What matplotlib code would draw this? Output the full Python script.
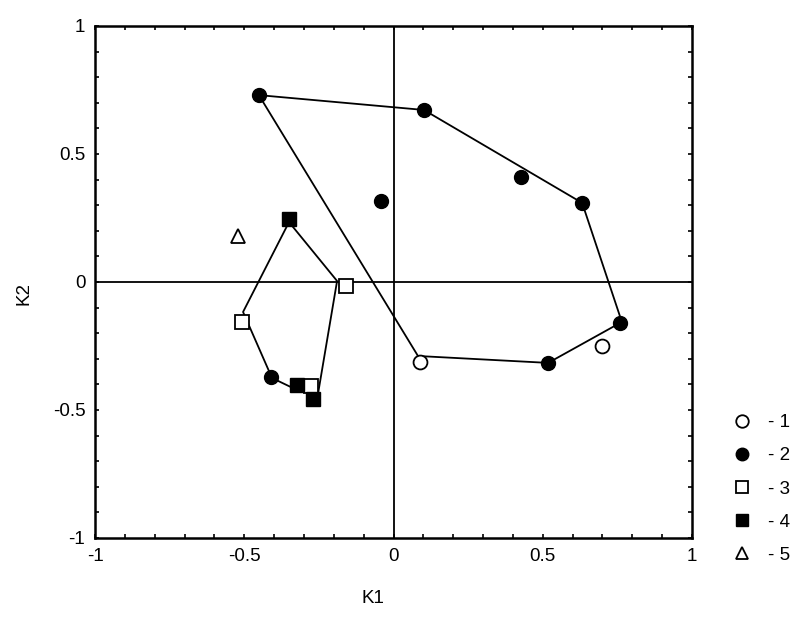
import matplotlib.pyplot as plt
from matplotlib.ticker import MultipleLocator, FuncFormatter

plt.rcParams['font.family'] = ['Liberation Sans', 'DejaVu Sans']

# group points (K1, K2)
g1_x = [0.089, 0.698]
g1_y = [-0.312, -0.250]
g2_x = [-0.451, 0.102, 0.427, 0.632, -0.042, 0.759, 0.518, -0.410]
g2_y = [0.730, 0.672, 0.410, 0.309, 0.316, -0.160, -0.316, -0.371]
g3_x = [-0.159, -0.508, -0.276]
g3_y = [-0.016, -0.156, -0.406]
g4_x = [-0.350, -0.323, -0.270]
g4_y = [0.246, -0.402, -0.457]
g5_x = [-0.521]
g5_y = [0.180]

# outlines
hull_a_x = [-0.451, 0.102, 0.632, 0.765, 0.518, 0.082, -0.451]
hull_a_y = [0.730, 0.672, 0.309, -0.156, -0.316, -0.289, 0.730]
hull_b_x = [-0.350, -0.189, -0.253, -0.323, -0.407, -0.504, -0.350]
hull_b_y = [0.234, 0.004, -0.4375, -0.422, -0.375, -0.117, 0.234]

fig = plt.figure(figsize=(8.06, 6.2), dpi=100)
ax = fig.add_axes([95/806, 82/620, 597/806, 512/620])

ax.axhline(0, color='black', lw=1.3, zorder=1)
ax.axvline(0, color='black', lw=1.3, zorder=1)
ax.plot(hull_a_x, hull_a_y, color='black', lw=1.3, zorder=2)
ax.plot(hull_b_x, hull_b_y, color='black', lw=1.3, zorder=2)

ms = 10
h1, = ax.plot(g1_x, g1_y, 'o', ms=ms, mfc='white', mec='black', mew=1.3, ls='none', zorder=3)
h2, = ax.plot(g2_x, g2_y, 'o', ms=ms, mfc='black', mec='black', ls='none', zorder=3)
h3, = ax.plot(g3_x, g3_y, 's', ms=ms, mfc='white', mec='black', mew=1.3, ls='none', zorder=3)
h4, = ax.plot(g4_x, g4_y, 's', ms=ms, mfc='black', mec='black', ls='none', zorder=3)
h5, = ax.plot(g5_x, g5_y, '^', ms=ms, mfc='white', mec='black', mew=1.3, ls='none', zorder=3)

ax.set_xlim(-1, 1)
ax.set_ylim(-1, 1)
for a in (ax.xaxis, ax.yaxis):
    a.set_major_locator(MultipleLocator(0.5))
    a.set_minor_locator(MultipleLocator(0.1))
    a.set_major_formatter(FuncFormatter(lambda v, p: '%g' % v if abs(v) > 1e-9 else '0'))
ax.tick_params(which='both', direction='in', top=True, right=True, length=3, width=1.2,
               labelsize=13.5, pad=7)
for s in ax.spines.values():
    s.set_linewidth(1.8)

ax.set_xlabel('K1', fontsize=13.5)
ax.set_ylabel('K2', fontsize=13.5)
ax.xaxis.set_label_coords(0.466, -0.102)
ax.yaxis.set_label_coords(-0.1055, 0.4785)

fig.legend([h1, h2, h3, h4, h5], ['- 1', '- 2', '- 3', '- 4', '- 5'],
           loc='center left', bbox_to_anchor=(716/806, 131/620), frameon=False,
           fontsize=13.5, handlelength=1.0, handletextpad=0.9, labelspacing=0.85,
           markerscale=0.9)

fig.savefig('out.png', dpi=100)
